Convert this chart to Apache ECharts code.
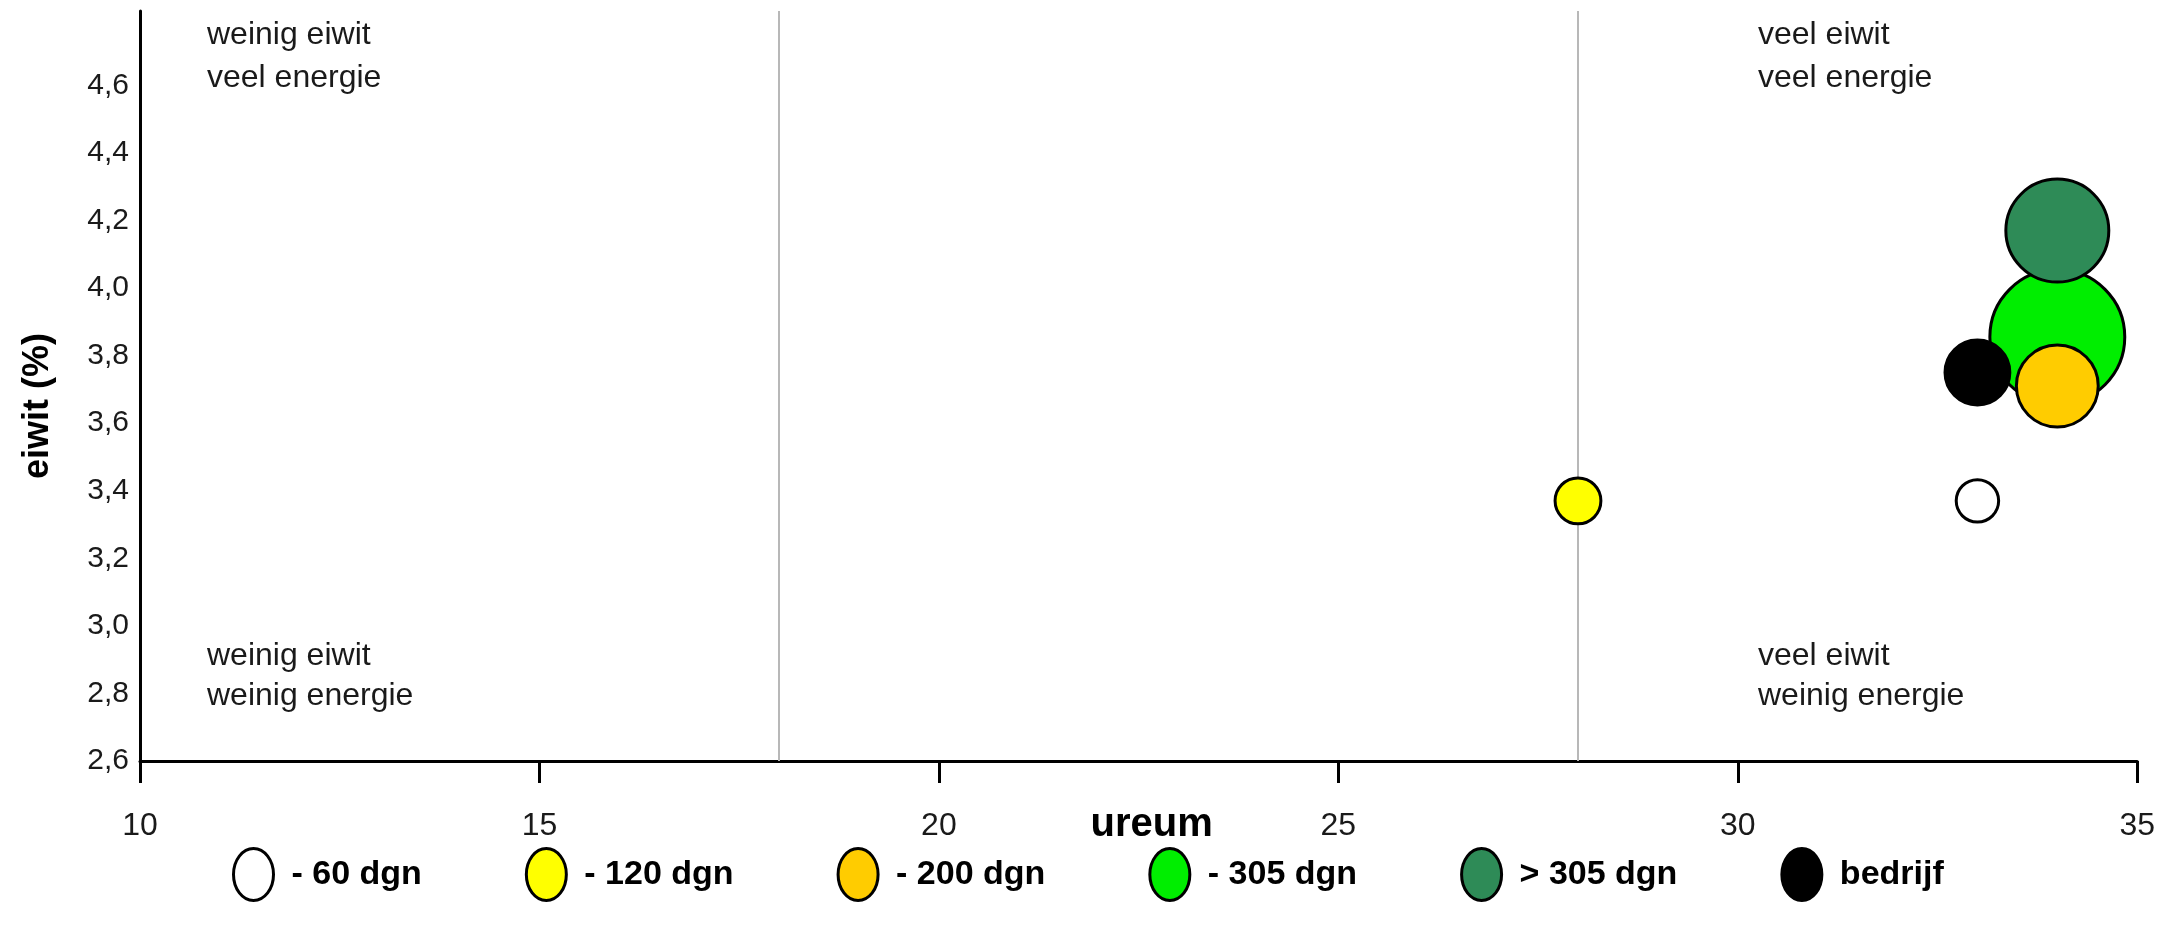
<!DOCTYPE html>
<html>
<head>
<meta charset="utf-8">
<script src="https://cdn.jsdelivr.net/npm/echarts@6/dist/echarts.min.js"></script>
<style>
  html, body { margin: 0; padding: 0; background: #ffffff; }
  #chart { width: 2158px; height: 945px; }
</style>
</head>
<body>
<div id="chart"></div>
<script>
// ---- data ----
const seriesNames = ['- 60 dgn', '- 120 dgn', '- 200 dgn', '- 305 dgn', '> 305 dgn', 'bedrijf'];
const ureum = [33.0, 28.0, 34.0, 34.0, 34.0, 33.0];
const eiwit = [3.37, 3.37, 3.71, 3.855, 4.17, 3.75];
const bubbleValue = [18, 21, 67, 182, 106, 42];
const xTicks = [10, 15, 20, 25, 30, 35];
const yTicks = [2.6, 2.8, 3.0, 3.2, 3.4, 3.6, 3.8, 4.0, 4.2, 4.4, 4.6];
const dividerUreum = [18, 28];
const quadrantTexts = [
  'weinig eiwit\nveel energie',
  'veel eiwit\nveel energie',
  'weinig eiwit\nweinig energie',
  'veel eiwit\nweinig energie'
];

// ---- styles ----
const fills = ['#ffffff', '#ffff00', '#ffcc00', '#00ee00', '#2e8b57', '#000000'];
const zOrder = [5, 5, 6, 3, 4, 6];
const font = "'Liberation Sans', Arial, sans-serif";
const narrow = "'Liberation Sans Narrow', 'Liberation Sans', Arial, sans-serif";
const ellipse = 'path://M50,0 A50,60 0 1 1 50,120 A50,60 0 1 1 50,0 Z';

const chart = echarts.init(document.getElementById('chart'));

const series = seriesNames.map((name, i) => ({
  name: name,
  type: 'scatter',
  z: zOrder[i],
  data: [[ureum[i], eiwit[i], bubbleValue[i]]],
  symbolSize: v => 10 * Math.sqrt(v[2]),
  itemStyle: { color: fills[i], borderColor: '#000', borderWidth: 3, opacity: 1 },
  emphasis: { disabled: true }
}));

series.push({
  name: 'dividers',
  type: 'scatter',
  data: [],
  z: 1,
  silent: true,
  markLine: {
    silent: true,
    symbol: 'none',
    label: { show: false },
    lineStyle: { color: '#b8b8b8', width: 2, type: 'solid' },
    data: dividerUreum.map(v => ({ xAxis: v }))
  }
});

const quadStyle = (t, lh) => ({ text: t, font: '32px ' + font, fill: '#1a1a1a', lineHeight: lh });

const option = {
  animation: false,
  backgroundColor: '#ffffff',
  grid: { left: 140, right: 10, top: 11, bottom: 184, containLabel: false },
  xAxis: {
    type: 'value',
    min: xTicks[0],
    max: xTicks[xTicks.length - 1],
    interval: 5,
    name: 'ureum',
    nameLocation: 'middle',
    nameGap: 44,
    nameMoveOverlap: false,
    nameTextStyle: { fontFamily: font, fontSize: 40, fontWeight: 'bold', color: '#000', padding: [0, 0, 0, 26] },
    axisLine: { show: true, lineStyle: { color: '#000', width: 3 } },
    axisTick: { show: true, inside: false, length: 22, lineStyle: { color: '#000', width: 3 } },
    axisLabel: { fontFamily: narrow, fontSize: 32, color: '#1a1a1a', margin: 49 },
    splitLine: { show: false }
  },
  yAxis: {
    type: 'value',
    min: yTicks[0],
    max: 4.82,
    interval: 0.2,
    axisLine: { show: true, onZero: false, lineStyle: { color: '#000', width: 3 } },
    axisTick: { show: false },
    axisLabel: {
      fontFamily: font, fontSize: 30, color: '#1a1a1a', margin: 11,
      formatter: v => (v > yTicks[yTicks.length - 1] + 0.01 ? '' : v.toFixed(1).replace('.', ','))
    },
    splitLine: { show: false }
  },
  legend: {
    data: seriesNames,
    bottom: 38,
    left: 227,
    itemGap: 103,
    itemWidth: 40,
    itemHeight: 52,
    itemStyle: { borderColor: '#000', borderWidth: 3 },
    symbolKeepAspect: false,
    icon: ellipse,
    textStyle: { fontFamily: font, fontSize: 34, fontWeight: 'bold', color: '#000', padding: [0, 0, 0, 13] },
    selectedMode: false
  },
  graphic: [
    { type: 'text', left: 207, top: 14, style: quadStyle(quadrantTexts[0], 43) },
    { type: 'text', left: 1758, top: 14, style: quadStyle(quadrantTexts[1], 43) },
    { type: 'text', left: 207, top: 636, style: quadStyle(quadrantTexts[2], 40) },
    { type: 'text', left: 1758, top: 636, style: quadStyle(quadrantTexts[3], 40) },
    { type: 'text', x: 38, y: 406, rotation: Math.PI / 2, style: { text: 'eiwit (%)', font: 'bold 36px ' + font, fill: '#000', align: 'center', verticalAlign: 'middle' } }
  ],
  series: series
};

chart.setOption(option);
</script>
</body>
</html>
